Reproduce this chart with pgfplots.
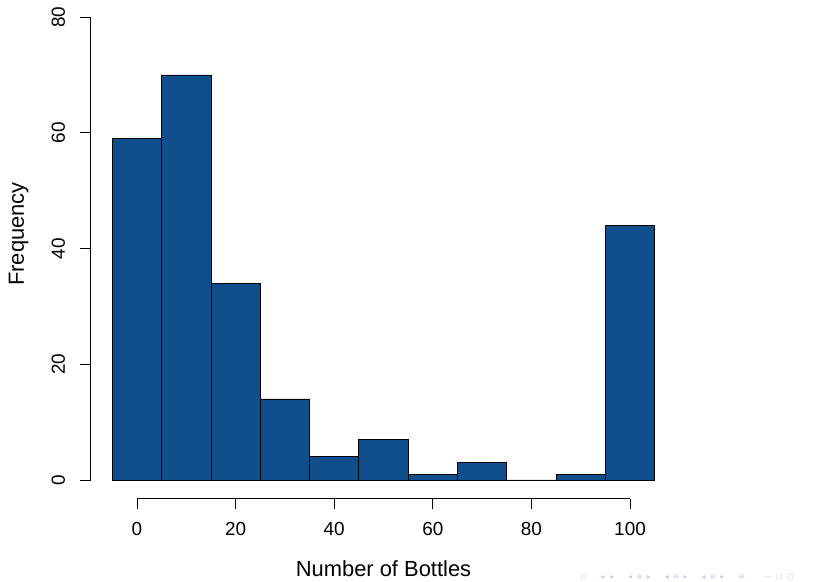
\documentclass[border=0pt]{standalone}
\usepackage{fontspec}
\setmainfont{Liberation Sans}
\newfontfamily\symfont{DejaVu Sans}
\usepackage{pgfplots}
\pgfplotsset{compat=1.18}
\definecolor{barblue}{RGB}{16,78,139}
\definecolor{navgray}{RGB}{200,204,232}
\begin{document}
\begin{tikzpicture}
\path[use as bounding box] (-90.66bp,-83.5bp) rectangle (749.34bp,498.5bp);
\begin{axis}[
 scale only axis, width=585.7bp, height=500bp,
 xmin=-9.4, xmax=109.4, ymin=-3.2, ymax=83.2,
 separate axis lines,
 axis x line*=bottom, axis y line*=left,
 axis line style={black, line width=0.75bp},
 x axis line style={-, shorten <=46.34bp, shorten >=46.34bp},
 y axis line style={-, shorten <=18.52bp, shorten >=18.52bp},
 xtick={0,20,...,100}, ytick={0,20,...,80},
 tick align=outside, major tick length=10.5bp,
 tick style={black, line width=0.75bp},
 /pgf/number format/assume math mode=true,
 ticklabel style={font=\fontsize{19}{22}\selectfont},
 xticklabel style={anchor=north, inner sep=0pt},
 yticklabel style={rotate=90, anchor=south, inner sep=0pt},
 xticklabel shift=13bp, yticklabel shift=15bp,
 xlabel={Number of Bottles}, ylabel={Frequency},
 every axis x label/.style={at={(axis description cs:0.5,-0.155)}, anchor=base, font=\fontsize{22}{26}\selectfont},
 every axis y label/.style={at={(axis description cs:-0.1139,0.529)}, rotate=90, anchor=base, font=\fontsize{22}{26}\selectfont},
]
\addplot[ybar interval, fill=barblue, draw=black, line width=0.75bp] coordinates {(-5,59) (5,70) (15,34) (25,14) (35,4) (45,7) (55,1) (65,3) (75,0) (85,1) (95,44) (105,44)};
\end{axis}
\node[anchor=south west, inner sep=0pt, text=navgray, font=\symfont\fontsize{8}{9}\selectfont] at (490bp,-82.5bp) {▫\hspace{14bp}◂\hspace{6bp}▸\hspace{14bp}◂\hspace{4bp}≡\hspace{4bp}▸\hspace{14bp}◂\hspace{4bp}≡\hspace{4bp}▸\hspace{14bp}◂\hspace{4bp}≡\hspace{4bp}▸\hspace{14bp}≡\hspace{20bp}∽\hspace{4bp}○\hspace{4bp}○};
\end{tikzpicture}
\end{document}
